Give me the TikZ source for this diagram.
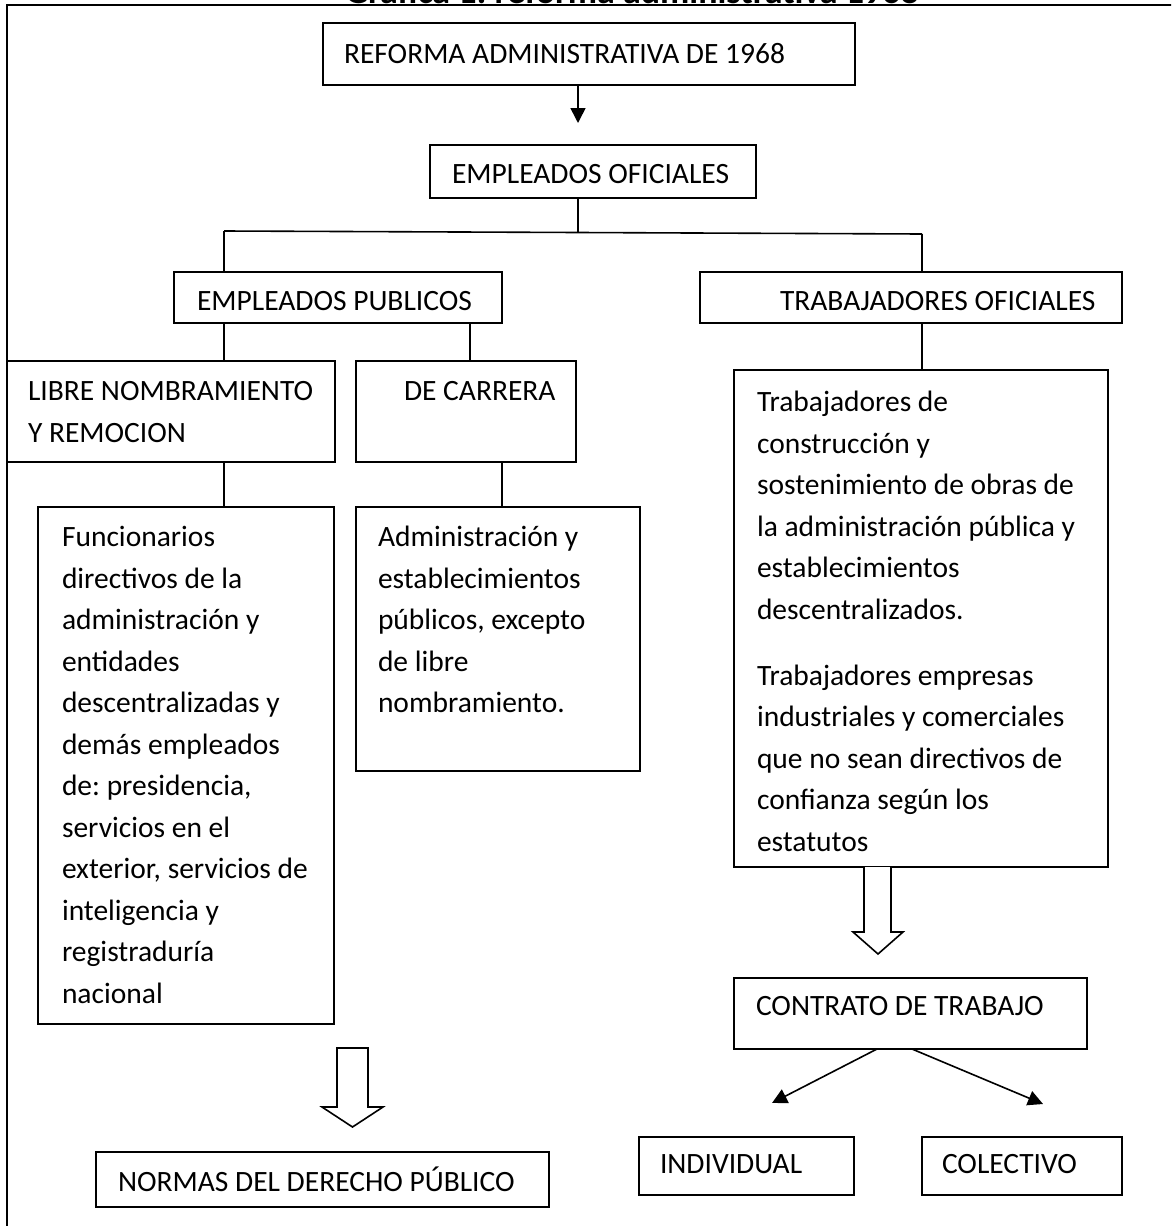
\documentclass[tikz,border=0pt]{standalone}
\usepackage{fontspec}
\setmainfont{Carlito}
\frenchspacing
\usetikzlibrary{arrows.meta,calc}
\begin{document}
\begin{tikzpicture}[x=1pt,y=-1pt,
  boxnode/.style={draw, line width=1.6pt, inner sep=0pt, outer sep=0pt, anchor=north west},
  txt/.style={inner sep=0pt, outer sep=0pt, anchor=north west, align=left,
    font=\fontsize{29.5}{41.5}\selectfont},
  conn/.style={line width=1.6pt},
  arr/.style={line width=1.6pt, -{Triangle[length=15pt,width=15pt]}},
  hollow/.style={draw, line width=1.6pt, fill=white, line join=miter}]
\useasboundingbox (0,0) rectangle (1171,1226);
\clip (0,0) rectangle (1171,1226);

% title (cut by the top of the picture)
\node[inner sep=0pt, anchor=base, font=\bfseries\fontsize{36}{42}\selectfont] (title) at (632,3.5) {Grafica 1: reforma administrativa 1968};
% outer frame
\draw[line width=1.8pt] (7,1240) -- (7,4.8) -- (1185,4.8);

% boxes
\node[boxnode, minimum width=532pt, minimum height=62pt] (reforma) at (323,23) {};
\node[boxnode, minimum width=326pt, minimum height=53pt] (empof) at (430,145) {};
\node[boxnode, minimum width=328pt, minimum height=51pt] (emppub) at (174,272) {};
\node[boxnode, minimum width=422pt, minimum height=51pt] (trabof) at (700,272) {};
\node[boxnode, minimum width=328pt, minimum height=101pt] (libre) at (7,361) {};
\node[boxnode, minimum width=220pt, minimum height=101pt] (carrera) at (356,361) {};
\node[boxnode, minimum width=296pt, minimum height=517pt] (func) at (38,507) {};
\node[boxnode, minimum width=284pt, minimum height=264pt] (admin) at (356,507) {};
\node[boxnode, minimum width=374pt, minimum height=497pt] (trab) at (734,370) {};
\node[boxnode, minimum width=353pt, minimum height=71pt] (contrato) at (734,978) {};
\node[boxnode, minimum width=215pt, minimum height=58pt] (indiv) at (639,1137) {};
\node[boxnode, minimum width=200pt, minimum height=58pt] (colect) at (922,1137) {};
\node[boxnode, minimum width=453pt, minimum height=55pt] (normas) at (96,1152) {};

% texts
\node[txt] (treforma) at (344,43.5) {REFORMA ADMINISTRATIVA DE 1968};
\node[txt] (tempof) at (452,164.5) {EMPLEADOS OFICIALES};
\node[txt] (temppub) at (197,291.5) {EMPLEADOS PUBLICOS};
\node[txt] (ttrabof) at (780,291.5) {TRABAJADORES OFICIALES};
\node[txt] (tlibre) at (28,381.5) {LIBRE NOMBRAMIENTO\\Y REMOCION};
\node[txt] (tcarrera) at (404,381.5) {DE CARRERA};
\node[txt] (tfunc) at (62,526.5) {Funcionarios\\directivos de la\\administración y\\entidades\\descentralizadas y\\demás empleados\\de: presidencia,\\servicios en el\\exterior, servicios de\\inteligencia y\\registraduría\\nacional};
\node[txt] (tadmin) at (378,526.5) {Administración y\\establecimientos\\públicos, excepto\\de libre\\nombramiento.};
\node[txt] (ttrab) at (757,391.5) {Trabajadores de\\construcción y\\sostenimiento de obras de\\la administración pública y\\establecimientos\\descentralizados.\\[24.5pt]Trabajadores empresas\\industriales y comerciales\\que no sean directivos de\\confianza según los\\estatutos};
\node[txt] (tcontrato) at (756,996.5) {CONTRATO DE TRABAJO};
\node[txt] (tindiv) at (660,1154.5) {INDIVIDUAL};
\node[txt] (tcolect) at (942,1154.5) {COLECTIVO};
\node[txt] (tnormas) at (118,1166.5) {NORMAS DEL DERECHO PÚBLICO};

% connector coordinates
\coordinate (xa) at (578,0);
\coordinate (atip) at (578,123);
\coordinate (hl) at (224,231);
\coordinate (hm) at (578,232.5);
\coordinate (hr) at (922,234);
\coordinate (xb) at (470,0);
\coordinate (xc) at (502,0);
\coordinate (itip) at (772,1103);
\coordinate (ctip) at (1043,1104);

% connectors
\draw[arr] (xa |- reforma.south) -- (atip);
\draw[conn] (hm |- empof.south) -- (hm);
\draw[conn] (hl) -- (hm) -- (hr);
\draw[conn] (hl) -- (hl |- emppub.north);
\draw[conn] (hr) -- (hr |- trabof.north);
\draw[conn] (hl |- emppub.south) -- (hl |- libre.north);
\draw[conn] (xb |- emppub.south) -- (xb |- carrera.north);
\draw[conn] (hl |- libre.south) -- (hl |- func.north);
\draw[conn] (xc |- carrera.south) -- (xc |- admin.north);
\draw[conn] (hr |- trabof.south) -- (hr |- trab.north);

% hollow block arrows
\draw[hollow] (864,867) -- (864,932) -- (853,932) -- (878,954) -- (903,932) -- (891,932) -- (891,867);
\draw[hollow] (337,1048) -- (368,1048) -- (368,1107) -- (383,1107) -- (352.5,1127) -- (322,1107) -- (337,1107) -- cycle;

% contrato arrows
\draw[arr] (877,1049) -- (itip);
\draw[arr] (912,1049) -- (ctip);
\end{tikzpicture}
\end{document}
